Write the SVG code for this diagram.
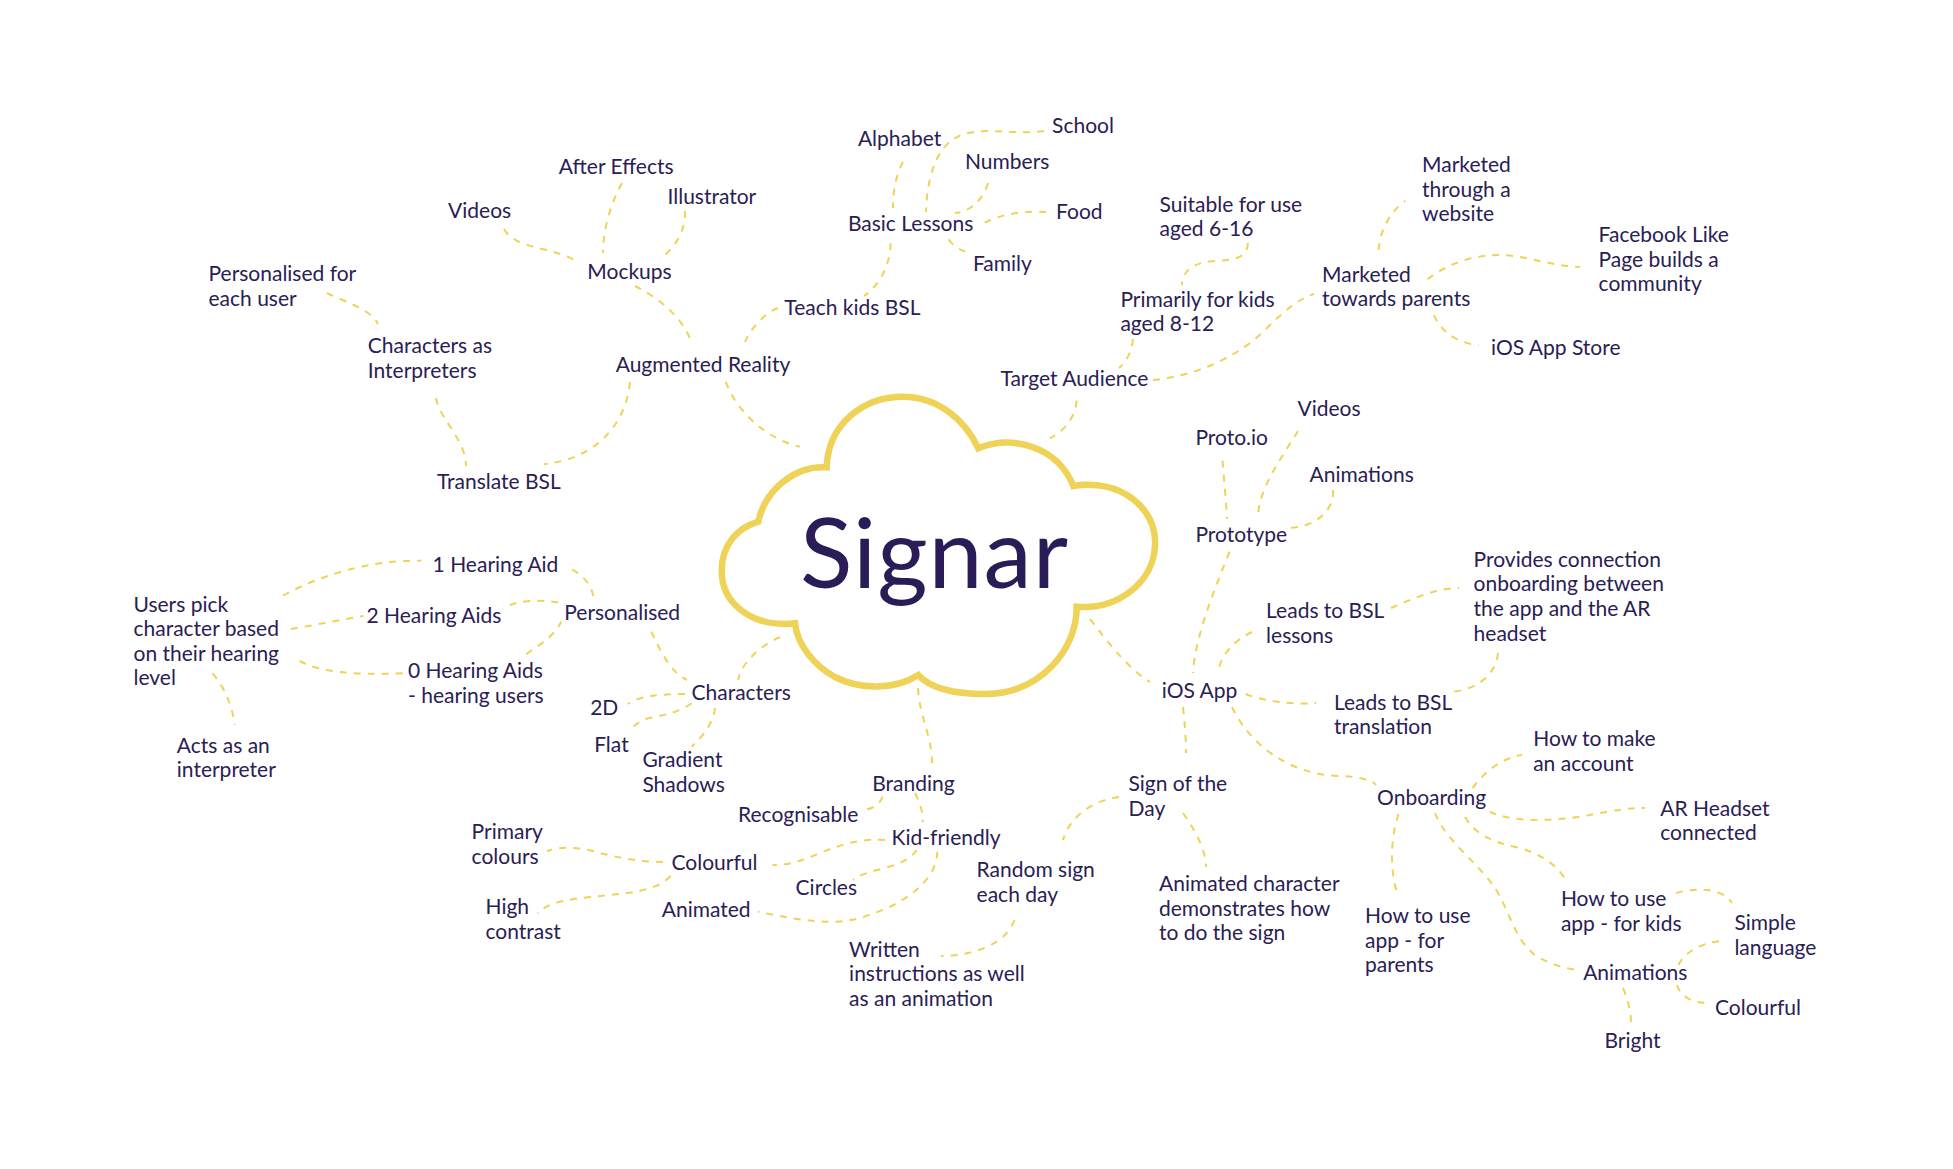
<svg xmlns="http://www.w3.org/2000/svg" width="1953" height="1169" viewBox="0 0 1953 1169">
<style>
.t{font-family:Lato,"Noto Sans",sans-serif;font-size:21px;fill:#2a2054}
.big{font-family:Lato,"Noto Sans",sans-serif;font-size:97px;fill:#2a1d57}
.c{fill:none;stroke:#efd358;stroke-width:2;stroke-dasharray:7 7}
.cloud{fill:#ffffff;stroke:#efd358;stroke-width:6.5;stroke-linejoin:miter}
</style>
<rect width="1953" height="1169" fill="#ffffff"/>
<g id="connectors">
<path class="c" d="M725.7,381.7 C738,415 770,440 800,446.7"/>
<path class="c" d="M634.7,286 C660,298 685,320 692,344.3"/>
<path class="c" d="M504,229 C515,250 560,248 577,262"/>
<path class="c" d="M622,183 C610,205 603,230 603,253"/>
<path class="c" d="M685,211 C686,230 675,248 660,259"/>
<path class="c" d="M778,308 C765,312 750,330 745,342"/>
<path class="c" d="M327,293 C345,302 372,310 378,324"/>
<path class="c" d="M436,398 C440,420 466,440 466,466"/>
<path class="c" d="M630,382 C625,430 590,460 544,464"/>
<path class="c" d="M903,162 C896,175 893,190 893,208"/>
<path class="c" d="M1044,131 C1020,135 990,128 968,133 C935,140 927,180 926,212"/>
<path class="c" d="M988,183 C983,200 970,212 955,213"/>
<path class="c" d="M1046,212 C1030,211 1005,212 984,223"/>
<path class="c" d="M948.6,239.3 C953,246 960,250 965.7,251.7"/>
<path class="c" d="M890.7,243.3 C890,265 880,285 864,296"/>
<path class="c" d="M1076.7,400.7 C1075,420 1062,432 1050,438.3"/>
<path class="c" d="M1133,339 C1132,352 1126,362 1119,368"/>
<path class="c" d="M1248,243 C1247,258 1235,260 1215,261 C1195,262 1182,270 1182,285"/>
<path class="c" d="M1153,380 C1200,375 1240,355 1265,330 C1285,310 1300,298 1314,294"/>
<path class="c" d="M1378.6,250 C1380,230 1390,212 1405.4,200.7"/>
<path class="c" d="M1427.5,279.3 C1450,262 1475,255 1500,255 C1525,255 1550,266 1580,267"/>
<path class="c" d="M1434,315 C1440,330 1455,343 1478.6,345"/>
<path class="c" d="M1298,431 C1280,460 1258,490 1258,518"/>
<path class="c" d="M1222.5,460.7 C1224,480 1226,500 1227,519"/>
<path class="c" d="M1333,490 C1335,510 1315,528 1287,528"/>
<path class="c" d="M1229.6,551.7 C1210,600 1195,640 1193,673"/>
<path class="c" d="M1252,632 C1235,640 1220,655 1218,673"/>
<path class="c" d="M1391,608 C1410,600 1435,588 1459,588"/>
<path class="c" d="M1245.7,694 C1260,700 1290,705 1316,703"/>
<path class="c" d="M1498,653 C1495,680 1470,690 1453.6,691.7"/>
<path class="c" d="M1090,619 C1110,645 1130,670 1150,682"/>
<path class="c" d="M1232,707 C1250,745 1290,775 1340,776 C1360,777 1372,780 1376,785"/>
<path class="c" d="M1183,707 C1185,725 1186,740 1186,753"/>
<path class="c" d="M1119,797 C1095,800 1070,815 1063,840"/>
<path class="c" d="M1183,813 C1195,830 1206,850 1206,867"/>
<path class="c" d="M1014.5,920 C1005,945 975,955 941,956"/>
<path class="c" d="M1472.6,788.3 C1485,770 1505,757 1522,755"/>
<path class="c" d="M1489.6,811.7 C1510,822 1550,822 1590,815 C1615,810 1630,808 1645,808"/>
<path class="c" d="M1398.5,814 C1390,840 1390,870 1397.5,895"/>
<path class="c" d="M1465,817 C1475,835 1495,843 1520,848 C1545,855 1562,870 1567,883"/>
<path class="c" d="M1435,813 C1445,840 1480,865 1495,888 C1510,912 1515,940 1535,955 C1550,965 1565,968 1577,970"/>
<path class="c" d="M1676,893 C1690,889 1720,885 1732,903"/>
<path class="c" d="M1678.6,965 C1682,955 1700,942 1722,941"/>
<path class="c" d="M1677,985 C1680,995 1690,1003 1708,1003"/>
<path class="c" d="M1623,988 C1628,1000 1631,1012 1631,1023"/>
<path class="c" d="M918,688 C920,720 932,735 932,763"/>
<path class="c" d="M882.7,796.7 C880,804 874,808 866.7,809.3"/>
<path class="c" d="M915,793 C920,803 923,812 922.7,822"/>
<path class="c" d="M916.7,850 C912,858 900,864 885,868 C870,872 858,875 853,880"/>
<path class="c" d="M885,840 C860,838 840,845 818.8,853.3 C805,860 790,865 772.5,865"/>
<path class="c" d="M937.3,851.7 C937,880 905,905 860,918 C830,926 800,920 757.8,911.7"/>
<path class="c" d="M663,862 C640,862 620,858 600,853 C580,847 560,846 547,851"/>
<path class="c" d="M670.6,876 C655,892 630,893 590,897 C560,900 545,905 537.6,913.3"/>
<path class="c" d="M780,637.3 C760,645 740,665 738.3,680"/>
<path class="c" d="M651.3,631.7 C660,650 670,672 687,680"/>
<path class="c" d="M685,694 C660,694 638,696 628,704"/>
<path class="c" d="M691.5,703.3 C680,712 665,715 649,718 C640,721 633,726 631,730"/>
<path class="c" d="M715,708 C714,720 705,735 691.5,746.7"/>
<path class="c" d="M572.3,569.3 C582,575 592,585 593.3,596.7"/>
<path class="c" d="M509.8,605 C520,601 540,599 559.8,602.7"/>
<path class="c" d="M526.3,654 C540,645 555,635 561.2,621.7"/>
<path class="c" d="M283,595.7 C320,575 370,560 421.4,560.7"/>
<path class="c" d="M291,629 C315,625 340,620 363.4,616"/>
<path class="c" d="M299.6,661 C320,672 350,675 403.6,673.3"/>
<path class="c" d="M212.5,673.3 C225,688 232,705 234.8,725"/>
</g>
<g id="signar">
<path class="cloud" d="M826.7,467.3 C828,425 862,396.7 903.3,396.7 C938,396.7 965,420 978.3,448.3 C1015,434 1058,448 1073.3,486 C1120,478 1157,508 1155,545 C1154,582 1118,610 1076.7,606.7 C1077,650 1040,694 985,694 C955,694 930,688 918.3,675 C895,690 860,690 835,677 C815,666 797,645 795,623.3 C755,628 721,605 721.7,570 C722,545 737,528 758.3,521.7 C765,490 795,465 826.7,467.3 Z"/>
<text class="big" x="800" y="588.3" textLength="268" lengthAdjust="spacing">Signar</text>
</g>
<g id="n-ar"><text class="t" x="615.7" y="372">Augmented Reality</text></g>
<g id="n-mockups"><text class="t" x="587.3" y="279">Mockups</text></g>
<g id="n-videos1"><text class="t" x="448.1" y="217.7">Videos</text></g>
<g id="n-aftereffects"><text class="t" x="558.8" y="174.3">After Effects</text></g>
<g id="n-illustrator"><text class="t" x="667.5" y="204.3">Illustrator</text></g>
<g id="n-teach"><text class="t" x="784.3" y="315.3">Teach kids BSL</text></g>
<g id="n-basic"><text class="t" x="847.9" y="230.7">Basic Lessons</text></g>
<g id="n-alphabet"><text class="t" x="857.9" y="145.7">Alphabet</text></g>
<g id="n-school"><text class="t" x="1052.1" y="132.7">School</text></g>
<g id="n-numbers"><text class="t" x="965" y="168.7">Numbers</text></g>
<g id="n-food"><text class="t" x="1056.1" y="219.3">Food</text></g>
<g id="n-family"><text class="t" x="972.9" y="270.7">Family</text></g>
<g id="n-charinterp"><text class="t"><tspan x="367.8" y="353.3">Characters as</tspan><tspan x="367.8" y="377.7">Interpreters</tspan></text></g>
<g id="n-persuser"><text class="t"><tspan x="208.5" y="281.3">Personalised for</tspan><tspan x="208.5" y="306">each user</tspan></text></g>
<g id="n-translate"><text class="t" x="437" y="489">Translate BSL</text></g>
<g id="n-target"><text class="t" x="1000.4" y="386">Target Audience</text></g>
<g id="n-primarily"><text class="t"><tspan x="1120.4" y="307.3">Primarily for kids</tspan><tspan x="1120.4" y="331.3">aged 8-12</tspan></text></g>
<g id="n-suitable"><text class="t"><tspan x="1159.6" y="211.7">Suitable for use</tspan><tspan x="1159.6" y="235.7">aged 6-16</tspan></text></g>
<g id="n-mparents"><text class="t"><tspan x="1322.1" y="281.7">Marketed</tspan><tspan x="1322.1" y="306">towards parents</tspan></text></g>
<g id="n-mwebsite"><text class="t"><tspan x="1422.1" y="172.3">Marketed</tspan><tspan x="1422.1" y="196.7">through a</tspan><tspan x="1422.1" y="220.7">website</tspan></text></g>
<g id="n-facebook"><text class="t"><tspan x="1598.6" y="242.3">Facebook Like</tspan><tspan x="1598.6" y="266.7">Page builds a</tspan><tspan x="1598.6" y="291.3">community</tspan></text></g>
<g id="n-appstore"><text class="t" x="1491.1" y="355">iOS App Store</text></g>
<g id="n-iosapp"><text class="t" x="1161.8" y="698.3">iOS App</text></g>
<g id="n-prototype"><text class="t" x="1195.4" y="541.7">Prototype</text></g>
<g id="n-protoio"><text class="t" x="1195.4" y="445">Proto.io</text></g>
<g id="n-videos2"><text class="t" x="1297.5" y="416">Videos</text></g>
<g id="n-animations1"><text class="t" x="1309.6" y="481.7">Animations</text></g>
<g id="n-lessons"><text class="t"><tspan x="1266.1" y="618.3">Leads to BSL</tspan><tspan x="1266.1" y="643.3">lessons</tspan></text></g>
<g id="n-provides"><text class="t"><tspan x="1473.6" y="566.7">Provides connection</tspan><tspan x="1473.6" y="591.3">onboarding between</tspan><tspan x="1473.6" y="616">the app and the AR</tspan><tspan x="1473.6" y="640.7">headset</tspan></text></g>
<g id="n-translation"><text class="t"><tspan x="1333.9" y="710">Leads to BSL</tspan><tspan x="1333.9" y="734">translation</tspan></text></g>
<g id="n-onboarding"><text class="t" x="1377.1" y="805">Onboarding</text></g>
<g id="n-account"><text class="t"><tspan x="1533.2" y="746">How to make</tspan><tspan x="1533.2" y="771">an account</tspan></text></g>
<g id="n-headset"><text class="t"><tspan x="1660.2" y="816">AR Headset</tspan><tspan x="1660.2" y="840">connected</tspan></text></g>
<g id="n-useparents"><text class="t"><tspan x="1365" y="923.3">How to use</tspan><tspan x="1365" y="948">app - for</tspan><tspan x="1365" y="972.3">parents</tspan></text></g>
<g id="n-usekids"><text class="t"><tspan x="1560.9" y="906">How to use</tspan><tspan x="1560.9" y="930.7">app - for kids</tspan></text></g>
<g id="n-animations2"><text class="t" x="1583.2" y="980">Animations</text></g>
<g id="n-simple"><text class="t"><tspan x="1734.4" y="930">Simple</tspan><tspan x="1734.4" y="955">language</tspan></text></g>
<g id="n-colourful2"><text class="t" x="1715" y="1015">Colourful</text></g>
<g id="n-bright"><text class="t" x="1604.5" y="1048.3">Bright</text></g>
<g id="n-signday"><text class="t"><tspan x="1128.5" y="791">Sign of the</tspan><tspan x="1128.5" y="816">Day</tspan></text></g>
<g id="n-random"><text class="t"><tspan x="976.6" y="876.7">Random sign</tspan><tspan x="976.6" y="901.7">each day</tspan></text></g>
<g id="n-written"><text class="t"><tspan x="849.1" y="956.7">Written</tspan><tspan x="849.1" y="981">instructions as well</tspan><tspan x="849.1" y="1005.7">as an animation</tspan></text></g>
<g id="n-animchar"><text class="t"><tspan x="1159" y="891">Animated character</tspan><tspan x="1159" y="915.7">demonstrates how</tspan><tspan x="1159" y="940.3">to do the sign</tspan></text></g>
<g id="n-branding"><text class="t" x="872.2" y="790.7">Branding</text></g>
<g id="n-recognisable"><text class="t" x="738" y="822.3">Recognisable</text></g>
<g id="n-kidfriendly"><text class="t" x="891.6" y="845">Kid-friendly</text></g>
<g id="n-colourful1"><text class="t" x="671.5" y="870">Colourful</text></g>
<g id="n-circles"><text class="t" x="795.6" y="895">Circles</text></g>
<g id="n-animated"><text class="t" x="661.8" y="917.3">Animated</text></g>
<g id="n-primary"><text class="t"><tspan x="471.6" y="839">Primary</tspan><tspan x="471.6" y="864">colours</tspan></text></g>
<g id="n-high"><text class="t"><tspan x="485.5" y="914">High</tspan><tspan x="485.5" y="938.7">contrast</tspan></text></g>
<g id="n-characters"><text class="t" x="691.5" y="700">Characters</text></g>
<g id="n-2d"><text class="t" x="590.2" y="715">2D</text></g>
<g id="n-flat"><text class="t" x="594.2" y="751.7">Flat</text></g>
<g id="n-gradient"><text class="t"><tspan x="642.4" y="766.7">Gradient</tspan><tspan x="642.4" y="791.7">Shadows</tspan></text></g>
<g id="n-personalised"><text class="t" x="564.3" y="620">Personalised</text></g>
<g id="n-1aid"><text class="t" x="432.6" y="572.3">1 Hearing Aid</text></g>
<g id="n-2aids"><text class="t" x="366.5" y="623.3">2 Hearing Aids</text></g>
<g id="n-0aids"><text class="t"><tspan x="408" y="678.3">0 Hearing Aids</tspan><tspan x="408" y="702.7">- hearing users</tspan></text></g>
<g id="n-userspick"><text class="t"><tspan x="133.5" y="611.7">Users pick</tspan><tspan x="133.5" y="636.3">character based</tspan><tspan x="133.5" y="660.7">on their hearing</tspan><tspan x="133.5" y="685.3">level</tspan></text></g>
<g id="n-acts"><text class="t"><tspan x="176.8" y="752.7">Acts as an</tspan><tspan x="176.8" y="777.3">interpreter</tspan></text></g>
</svg>
